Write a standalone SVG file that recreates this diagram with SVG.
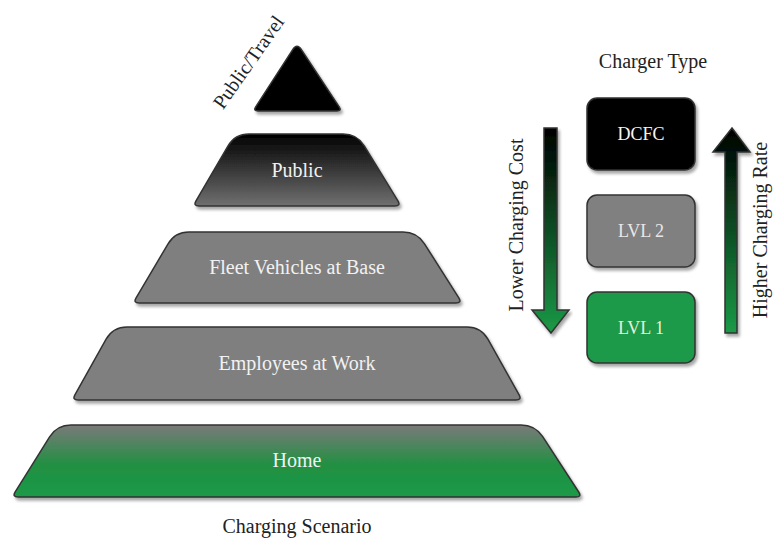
<svg xmlns="http://www.w3.org/2000/svg" width="783" height="538" viewBox="0 0 783 538">
<defs>
<filter id="sh" x="-10%" y="-10%" width="120%" height="130%">
<feDropShadow dx="2" dy="3" stdDeviation="1.5" flood-color="#000" flood-opacity="0.35"/>
</filter>
<linearGradient id="gPublic" x1="0" y1="0" x2="0" y2="1">
<stop offset="0" stop-color="#000"/>
<stop offset="1" stop-color="#707070"/>
</linearGradient>
<linearGradient id="gHome" x1="0" y1="0" x2="0" y2="1">
<stop offset="0" stop-color="#7a7a7a"/>
<stop offset="0.55" stop-color="#228f42"/>
<stop offset="1" stop-color="#1a9a48"/>
</linearGradient>
<linearGradient id="gDown" gradientUnits="userSpaceOnUse" x1="0" y1="128" x2="0" y2="333">
<stop offset="0" stop-color="#000"/>
<stop offset="1" stop-color="#1b9a47"/>
</linearGradient>
<linearGradient id="gUp" gradientUnits="userSpaceOnUse" x1="0" y1="128" x2="0" y2="333">
<stop offset="0" stop-color="#000"/>
<stop offset="1" stop-color="#1b9a47"/>
</linearGradient>
</defs>
<style>
.shape{stroke:#333;stroke-width:1.5;filter:url(#sh)}
.lbl{font-family:"Liberation Serif","Times New Roman",serif;font-size:20px;fill:#f2f2f2;text-anchor:middle}
.blbl{font-family:"Liberation Serif","Times New Roman",serif;font-size:18px;text-anchor:middle}
.cap{font-family:"Liberation Serif","Times New Roman",serif;font-size:20px;fill:#222;text-anchor:middle}
</style>
<rect width="783" height="538" fill="#fff"/>

<g id="public-travel">
<path class="shape" fill="#000" d="M 292.7,49.7 Q 297,43 301.4,49.7 L 339.2,106.8 Q 342,111 337,111 L 258,111 Q 253,111 255.7,106.8 Z"/>
<text class="cap" x="254" y="66" transform="rotate(-55 254 66)">Public/Travel</text>
</g>

<g id="public">
<path class="shape" fill="url(#gPublic)" d="M 249,134 L 343,134 Q 357,134 364.3,145.9 L 397.9,200.9 Q 401,206 395,206 L 199,206 Q 193,206 196,200.8 L 227.9,146.1 Q 235,134 249,134 Z"/>
<text class="lbl" x="297" y="177">Public</text>
</g>

<g id="fleet">
<path class="shape" fill="#7f7f7f" d="M 189,232 L 403,232 Q 417,232 424.5,243.8 L 458.8,297.9 Q 462,303 456,303 L 139,303 Q 133,303 136.1,297.8 L 167.9,244.1 Q 175,232 189,232 Z"/>
<text class="lbl" x="297" y="274">Fleet Vehicles at Base</text>
</g>

<g id="employees">
<path class="shape" fill="#7f7f7f" d="M 127,327 L 467,327 Q 481,327 487.9,339.2 L 519.1,394.8 Q 522,400 516,400 L 78,400 Q 72,400 74.9,394.8 L 106.1,339.2 Q 113,327 127,327 Z"/>
<text class="lbl" x="297" y="370">Employees at Work</text>
</g>

<g id="home">
<path class="shape" fill="url(#gHome)" d="M 71,425 L 521,425 Q 535,425 542.7,436.7 L 578.7,492 Q 582,497 576,497 L 18,497 Q 12,497 15.2,491.9 L 49.6,436.9 Q 57,425 71,425 Z"/>
<text class="lbl" x="297" y="467">Home</text>
</g>

<text class="cap" x="297" y="533">Charging Scenario</text>
<text class="cap" x="653" y="68">Charger Type</text>

<g id="dcfc">
<rect class="shape" x="587" y="98" width="108" height="72" rx="10" fill="#050505"/>
<text class="blbl" x="641" y="140" fill="#f5f5f5">DCFC</text>
</g>
<g id="lvl2">
<rect class="shape" x="587" y="195" width="108" height="72" rx="10" fill="#808080"/>
<text class="blbl" x="641" y="237" fill="#e8e8e8">LVL 2</text>
</g>
<g id="lvl1">
<rect class="shape" x="587" y="292" width="108" height="71" rx="10" fill="#1c9a48"/>
<text class="blbl" x="641" y="334" fill="#e6f0dc">LVL 1</text>
</g>

<g id="connectors">
<g id="lower-cost">
<path class="shape" fill="url(#gDown)" stroke-width="1" d="M 544,128 L 557,128 L 557,310 L 569,310 L 551,333 L 532,310 L 544,310 Z"/>
<text class="cap" x="523" y="225" transform="rotate(-90 523 225)">Lower Charging Cost</text>
</g>
<g id="higher-rate">
<path class="shape" fill="url(#gUp)" stroke-width="1" d="M 732,128 L 750,152 L 737,152 L 737,333 L 725,333 L 725,152 L 713,152 Z"/>
<text class="cap" x="767" y="230" transform="rotate(-90 767 230)">Higher Charging Rate</text>
</g>
</g>
</svg>
